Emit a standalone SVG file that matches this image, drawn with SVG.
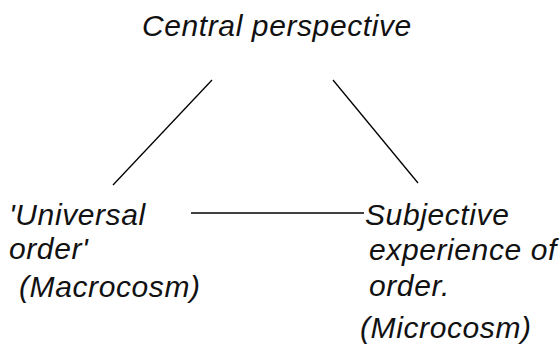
<svg xmlns="http://www.w3.org/2000/svg" width="560" height="354" viewBox="0 0 560 354">
<style>
text{font-family:"Liberation Sans",Arial,sans-serif;font-style:italic;font-size:30px;letter-spacing:0.6px;fill:#111}
.c{stroke:#000;stroke-width:1.3;fill:none}
</style>
<rect width="560" height="354" fill="#fff"/>
<g id="central"><text x="142" y="36">Central perspective</text></g>
<g id="universal"><text x="9" y="225">'Universal</text><text x="9" y="259">order'</text><text x="19" y="297">(Macrocosm)</text></g>
<g id="subjective"><text x="365" y="225">Subjective</text><text x="369" y="260">experience of</text><text x="369" y="296">order.</text><text x="360" y="338">(Microcosm)</text></g>
<g id="connectors">
<line class="c" x1="212" y1="80" x2="113" y2="185"/>
<line class="c" x1="333" y1="80" x2="418" y2="183"/>
<line class="c" x1="191" y1="213" x2="364" y2="213"/>
</g>
</svg>
